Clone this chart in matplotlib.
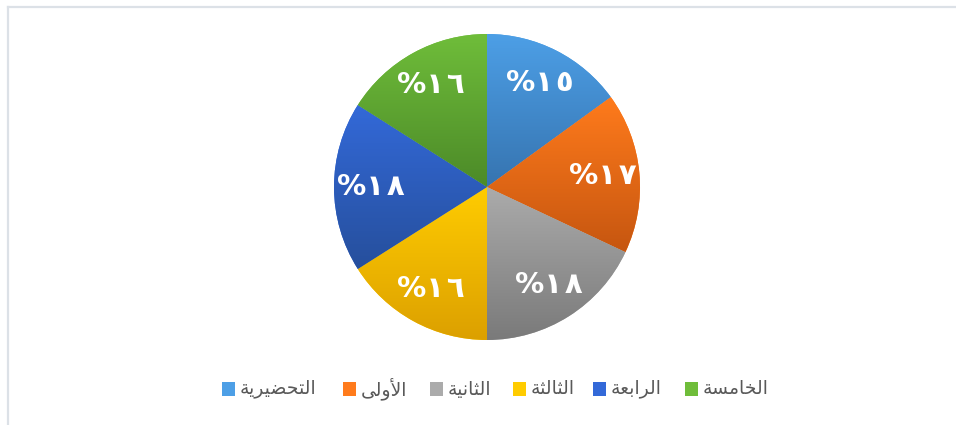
import numpy as np
import matplotlib
matplotlib.use("Agg")
import matplotlib.pyplot as plt
from matplotlib.colors import LinearSegmentedColormap
from matplotlib.lines import Line2D
from matplotlib.patches import Rectangle

# ---- data ----
categories = ["التحضيرية", "الأولى", "الثانية", "الثالثة", "الرابعة", "الخامسة"]
values = [15, 17, 18, 16, 18, 16]
labels = ["%١٥", "%١٧", "%١٨", "%١٦", "%١٨", "%١٦"]
top_colors = ["#4d9fe6", "#ff7b1c", "#ababab", "#ffcc00", "#3369d8", "#6fbd3a"]
bot_colors = ["#3674b0", "#c65610", "#7a7a7a", "#dca000", "#264f9c", "#4c8a28"]

# ---- minimal Arabic shaping (presentation forms) ----
FORMS = {  # iso, fin, ini, med  (None for right-joining letters)
    'ا': ('\uFE8D', '\uFE8E', None, None),
    'أ': ('\uFE83', '\uFE84', None, None),
    'ب': ('\uFE8F', '\uFE90', '\uFE91', '\uFE92'),
    'ة': ('\uFE93', '\uFE94', None, None),
    'ت': ('\uFE95', '\uFE96', '\uFE97', '\uFE98'),
    'ث': ('\uFE99', '\uFE9A', '\uFE9B', '\uFE9C'),
    'ح': ('\uFEA1', '\uFEA2', '\uFEA3', '\uFEA4'),
    'خ': ('\uFEA5', '\uFEA6', '\uFEA7', '\uFEA8'),
    'ر': ('\uFEAD', '\uFEAE', None, None),
    'س': ('\uFEB1', '\uFEB2', '\uFEB3', '\uFEB4'),
    'ض': ('\uFEBD', '\uFEBE', '\uFEBF', '\uFEC0'),
    'ع': ('\uFEC9', '\uFECA', '\uFECB', '\uFECC'),
    'ل': ('\uFEDD', '\uFEDE', '\uFEDF', '\uFEE0'),
    'م': ('\uFEE1', '\uFEE2', '\uFEE3', '\uFEE4'),
    'ن': ('\uFEE5', '\uFEE6', '\uFEE7', '\uFEE8'),
    'و': ('\uFEED', '\uFEEE', None, None),
    'ى': ('\uFEEF', '\uFEF0', '\uFBE8', '\uFBE9'),
    'ي': ('\uFEF1', '\uFEF2', '\uFEF3', '\uFEF4'),
}
LAMALEF = {'ا': ('\uFEFB', '\uFEFC'), 'أ': ('\uFEF7', '\uFEF8')}


def shape(word):
    chars = list(word)
    units = []
    i = 0
    while i < len(chars):
        if chars[i] == 'ل' and i + 1 < len(chars) and chars[i + 1] in LAMALEF:
            units.append(('LA', chars[i + 1]))
            i += 2
        else:
            units.append(('C', chars[i]))
            i += 1

    def joins_left(u):
        if u[0] == 'LA':
            return False
        f = FORMS.get(u[1])
        return f is not None and f[2] is not None

    def joins_right(u):
        if u[0] == 'LA':
            return True
        return u[1] in FORMS

    out = []
    for k, u in enumerate(units):
        prev_j = k > 0 and joins_left(units[k - 1]) and joins_right(u)
        if u[0] == 'LA':
            iso, fin = LAMALEF[u[1]]
            out.append(fin if prev_j else iso)
            continue
        f = FORMS.get(u[1])
        if f is None:
            out.append(u[1])
            continue
        next_j = (k + 1 < len(units) and joins_left(u) and joins_right(units[k + 1]))
        if prev_j and next_j:
            out.append(f[3])
        elif prev_j:
            out.append(f[1])
        elif next_j:
            out.append(f[2])
        else:
            out.append(f[0])
    return ''.join(out)[::-1]


def spaced(s):
    # the Arabic-Indic digits are drawn slightly apart in the original
    return s[0] + "\u200a".join(s[1:])


W, H = 956, 425
fig = plt.figure(figsize=(W / 100, H / 100), dpi=100)
fig.patch.set_facecolor("white")

# frame lines (top and left)
fig.add_artist(Line2D([7.5 / W, 7.5 / W], [0, 1 - 6.5 / H], transform=fig.transFigure,
                      color="#dce1e7", lw=1.6))
fig.add_artist(Line2D([7.5 / W, 1], [1 - 6.5 / H, 1 - 6.5 / H], transform=fig.transFigure,
                      color="#dce1e7", lw=1.6))

# pie axes: center (487,187), radius 153 px
cx, cy, r = 487, 187, 153
ax = fig.add_axes([(cx - r) / W, 1 - (cy + r) / H, 2 * r / W, 2 * r / H])
wedges, texts = ax.pie(values, colors=top_colors, startangle=90, counterclock=False,
                       labels=[spaced(l) for l in labels], labeldistance=0.76, radius=1,
                       wedgeprops=dict(linewidth=0),
                       textprops=dict(color="white", fontsize=21, fontweight="bold",
                                      family=["DejaVu Sans"], ha="center", va="center"))
ax.set_aspect("equal")
ax.axis("off")

# gradient fill for each wedge
grad = np.linspace(0, 1, 256).reshape(-1, 1)
for w, c1, c2 in zip(wedges, top_colors, bot_colors):
    verts = w.get_path().vertices
    verts = w.get_patch_transform().transform(verts)
    x0, x1 = verts[:, 0].min(), verts[:, 0].max()
    y0, y1 = verts[:, 1].min(), verts[:, 1].max()
    cmap = LinearSegmentedColormap.from_list("g", [c2, c1])
    im = ax.imshow(grad, cmap=cmap, extent=[x0, x1, y0, y1], origin="lower",
                   aspect="auto", zorder=w.get_zorder() + 0.1, interpolation="bilinear")
    im.set_clip_path(w)
for t in texts:
    t.set_zorder(10)
ax.set_xlim(-1, 1)
ax.set_ylim(-1, 1)

# legend: [square][text] left to right
sq_x = [222, 343, 430, 513, 593, 685]
ly = 389
for x, col1, col2, name in zip(sq_x, top_colors, bot_colors, categories):
    sq = Rectangle((x / W, 1 - (ly + 7) / H), 13 / W, 14 / H, transform=fig.transFigure,
                   facecolor=col1, edgecolor="none")
    fig.add_artist(sq)
    fig.text((x + 18) / W, 1 - ly / H, shape(name), fontsize=13.5, color="#595959",
             family=["DejaVu Sans"], ha="left", va="center")

fig.savefig("out.png", dpi=100, facecolor="white")
